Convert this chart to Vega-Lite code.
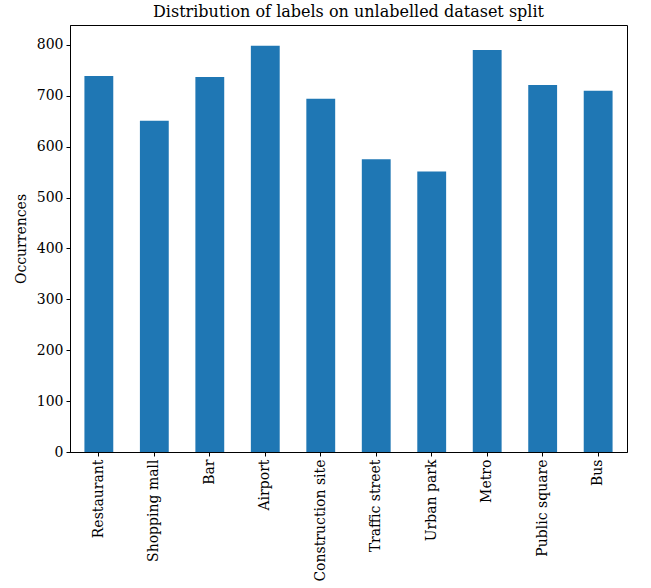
{
  "$schema": "https://vega.github.io/schema/vega-lite/v6.json",
  "autosize": {"type": "none"},
  "width": 557,
  "height": 427,
  "padding": {"left": 70, "top": 25, "right": 24, "bottom": 136},
  "background": "white",
  "title": {
    "text": "Distribution of labels on unlabelled dataset split",
    "font": "DejaVu Serif",
    "fontSize": 16,
    "fontWeight": "normal",
    "color": "black",
    "offset": 5
  },
  "data": {
    "values": [
      {"label": "Restaurant", "count": 739},
      {"label": "Shopping mall", "count": 651},
      {"label": "Bar", "count": 737},
      {"label": "Airport", "count": 798},
      {"label": "Construction site", "count": 694},
      {"label": "Traffic street", "count": 575},
      {"label": "Urban park", "count": 551},
      {"label": "Metro", "count": 790},
      {"label": "Public square", "count": 721},
      {"label": "Bus", "count": 710}
    ]
  },
  "mark": {"type": "bar", "color": "#1f77b4"},
  "encoding": {
    "x": {
      "field": "label",
      "type": "nominal",
      "sort": null,
      "scale": {"paddingInner": 0.48, "paddingOuter": 0.26},
      "axis": {
        "title": null,
        "labelAngle": -90,
        "labelFont": "DejaVu Serif",
        "labelFontSize": 14,
        "labelColor": "black",
        "domainColor": "black",
        "tickColor": "black",
        "tickSize": 4,
        "labelPadding": 3
      }
    },
    "y": {
      "field": "count",
      "type": "quantitative",
      "scale": {"domain": [0, 839], "nice": false, "zero": true},
      "axis": {
        "title": "Occurrences",
        "titleFont": "DejaVu Serif",
        "titleFontSize": 14,
        "titleFontWeight": "normal",
        "titleColor": "black",
        "titlePadding": 8,
        "values": [0, 100, 200, 300, 400, 500, 600, 700, 800],
        "grid": false,
        "labelFont": "DejaVu Serif",
        "labelFontSize": 14,
        "labelColor": "black",
        "domainColor": "black",
        "tickColor": "black",
        "tickSize": 4,
        "labelPadding": 3
      }
    }
  },
  "config": {
    "view": {"stroke": "black", "strokeWidth": 1}
  }
}
